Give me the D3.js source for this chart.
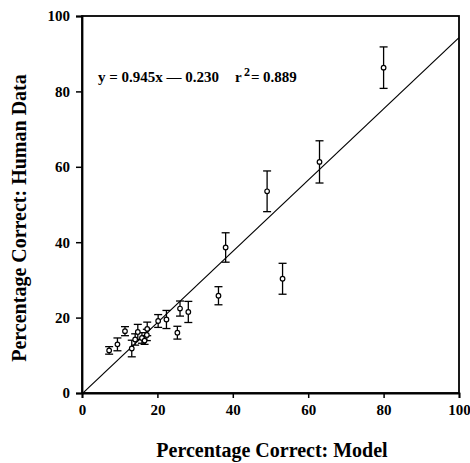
<!DOCTYPE html>
<html>
<head>
<meta charset="utf-8">
<script src="https://cdn.jsdelivr.net/npm/d3@7"></script>
<style>
  body { margin: 0; background: #fff; }
  svg text { font-family: "Liberation Serif", "Times New Roman", serif; font-weight: bold; fill: #000; }
</style>
</head>
<body>
<div id="chart"></div>
<script>
// Data
const xTicks = [0, 20, 40, 60, 80, 100];
const yTicks = [0, 20, 40, 60, 80, 100];
const modelPct = [7.2, 9.4, 11.4, 13.2, 14.1, 14.8, 15.9, 16.6, 17.2, 17.3, 20.2, 22.4, 25.3, 26.0, 28.2, 36.2, 38.1, 49.1, 53.2, 63.0, 80.0];
const humanPct = [11.3, 12.9, 16.4, 11.8, 14.2, 16.2, 14.6, 13.9, 15.4, 17.0, 19.1, 19.5, 16.0, 22.4, 21.5, 25.8, 38.6, 53.5, 30.3, 61.3, 86.3];
const humanErr = [1.0, 1.7, 1.2, 2.2, 1.5, 2.0, 1.4, 1.0, 1.5, 1.8, 1.7, 2.4, 1.7, 2.0, 2.8, 2.4, 3.9, 5.4, 4.1, 5.6, 5.5];
const fitSlope = 0.945;
const fitIntercept = -0.230;
const rSquared = 0.889;

const width = 470, height = 463;
const margin = { top: 16, right: 11, bottom: 70, left: 82 };
const innerW = width - margin.left - margin.right;
const innerH = height - margin.top - margin.bottom;

const svg = d3.select('#chart').append('svg')
    .attr('width', width)
    .attr('height', height);

const g = svg.append('g').attr('transform', `translate(${margin.left},${margin.top})`);

const x = d3.scaleLinear().domain([0, 100]).range([0, innerW]);
const y = d3.scaleLinear().domain([0, 100]).range([innerH, 0]);

// Frame
g.append('rect')
    .attr('width', innerW)
    .attr('height', innerH)
    .attr('fill', 'none')
    .attr('stroke', '#000')
    .attr('stroke-width', 1.8);

// Axes
const xAxis = g.append('g')
    .attr('transform', `translate(0,${innerH})`)
    .call(d3.axisBottom(x).tickValues(xTicks).tickSize(5).tickPadding(6).tickFormat(d3.format('d')));
const yAxis = g.append('g')
    .call(d3.axisLeft(y).tickValues(yTicks).tickSize(6).tickPadding(6).tickFormat(d3.format('d')));

[xAxis, yAxis].forEach(a => {
    a.select('.domain').attr('stroke-width', 1.8);
    a.selectAll('.tick line').attr('stroke-width', 1.5);
    a.selectAll('.tick text').attr('font-size', 15).attr('font-family', null);
});

// Regression line
g.append('line')
    .attr('x1', x(0)).attr('y1', y(fitIntercept))
    .attr('x2', x(100)).attr('y2', y(fitSlope * 100 + fitIntercept))
    .attr('stroke', '#000')
    .attr('stroke-width', 1.2);

// Error bars
const pts = modelPct.map((m, i) => ({ m, h: humanPct[i], e: humanErr[i] }));
const bars = g.append('g').attr('stroke', '#000').attr('stroke-width', 1.3);
pts.forEach(p => {
    bars.append('line')
        .attr('x1', x(p.m)).attr('x2', x(p.m))
        .attr('y1', y(p.h - p.e)).attr('y2', y(p.h + p.e));
    [p.h - p.e, p.h + p.e].forEach(v => {
        bars.append('line')
            .attr('x1', x(p.m) - 4).attr('x2', x(p.m) + 4)
            .attr('y1', y(v)).attr('y2', y(v));
    });
});

// Points
g.append('g').selectAll('circle')
    .data(pts)
    .join('circle')
    .attr('cx', d => x(d.m))
    .attr('cy', d => y(d.h))
    .attr('r', 2.3)
    .attr('fill', '#fff')
    .attr('stroke', '#000')
    .attr('stroke-width', 1.2);

// Equation
svg.append('text')
    .attr('x', 98).attr('y', 82)
    .attr('font-size', 15)
    .text(`y = ${fitSlope}x \u2014 ${Math.abs(fitIntercept).toFixed(3)}`);
svg.append('text')
    .attr('x', 235).attr('y', 82)
    .attr('font-size', 15)
    .text('r');
svg.append('text')
    .attr('x', 244).attr('y', 76)
    .attr('font-size', 12)
    .text('2');
svg.append('text')
    .attr('x', 251).attr('y', 82)
    .attr('font-size', 15)
    .text('=');
svg.append('text')
    .attr('x', 263).attr('y', 82)
    .attr('font-size', 15)
    .text(rSquared);

// Axis titles
svg.append('text')
    .attr('x', 272).attr('y', 457)
    .attr('text-anchor', 'middle')
    .attr('font-size', 20)
    .text('Percentage Correct: Model');

svg.append('text')
    .attr('transform', 'translate(26,218) rotate(-90)')
    .attr('text-anchor', 'middle')
    .attr('font-size', 20)
    .text('Percentage Correct: Human Data');
</script>
</body>
</html>
